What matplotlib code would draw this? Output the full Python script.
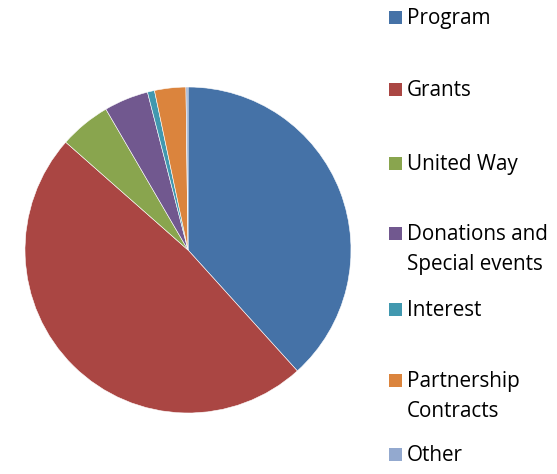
import matplotlib
matplotlib.use('Agg')
import matplotlib.pyplot as plt
from matplotlib.patches import Rectangle

# slice shares (percent)
labels = ['Program', 'Grants', 'United Way', 'Donations and\nSpecial events',
          'Interest', 'Partnership\nContracts', 'Other']
values = [38.3, 48.2, 5.1, 4.4, 0.7, 3.1, 0.2]
colors = ['#4572A7', '#AA4643', '#89A54E', '#71588F', '#4198AF', '#DB843D', '#93A9CF']
# legend row (first line) centre, pixels from top
legend_y = [17, 89, 163, 233, 309, 380, 454]

W, H = 557, 474
fig = plt.figure(figsize=(W / 100, H / 100), dpi=100)

cx, cy, r = 188, 250, 163
ax = fig.add_axes([(cx - r) / W, (H - cy - r) / H, 2 * r / W, 2 * r / H])
ax.pie(values, colors=colors, startangle=90, counterclock=False,
       wedgeprops=dict(edgecolor='white', linewidth=0.4))
ax.set_xlim(-1, 1)
ax.set_ylim(-1, 1)
ax.set_aspect('equal')

# legend drawn by hand because the row spacing is uneven
for lab, col, y in zip(labels, colors, legend_y):
    yf = (H - y) / H
    fig.patches.append(Rectangle((389 / W, yf - 6.5 / H), 13 / W, 13 / H,
                                 transform=fig.transFigure, facecolor=col,
                                 edgecolor='none'))
    for i, line in enumerate(lab.split('\n')):
        fig.text(407 / W, (H - y - 1.5 - 30 * i) / H, line, fontsize=14.9,
                 family='Open Sans', va='center', ha='left')

fig.savefig('out.png', dpi=100)
